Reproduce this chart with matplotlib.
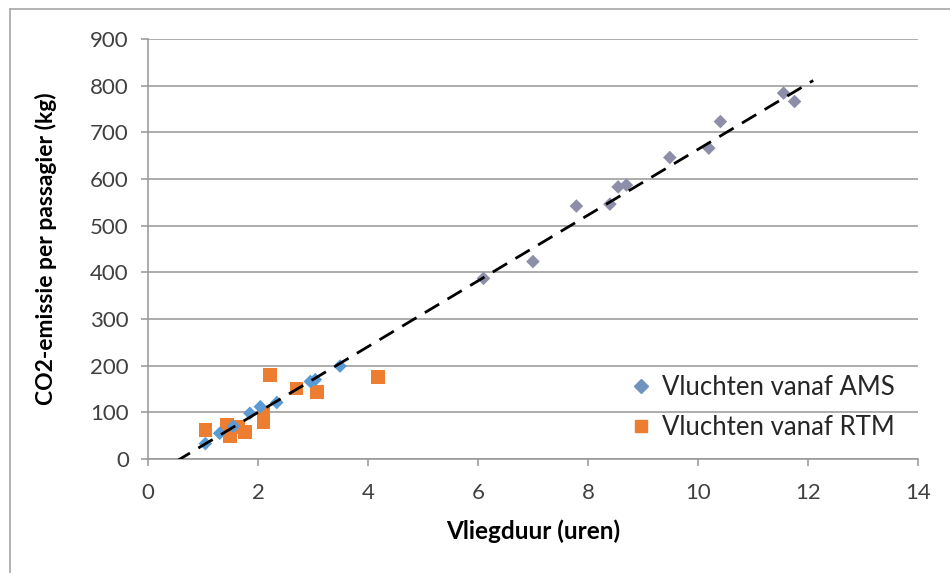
import numpy as np
import matplotlib.pyplot as plt
from matplotlib.lines import Line2D

# Flights from AMS (flight time in hours, CO2 per passenger in kg)
ams_hours = [1.04, 1.30, 1.55, 1.85, 2.04, 2.34, 2.95, 3.04, 3.49,
             6.10, 7.00, 7.79, 8.40, 8.55, 8.70, 9.49, 10.20, 10.41, 11.56, 11.76]
ams_co2 = [33, 55, 70, 98, 112, 121, 166, 170, 199,
           387, 423, 542, 546, 583, 587, 646, 666, 723, 784, 766]

# Flights from RTM
rtm_hours = [1.04, 1.43, 1.49, 1.64, 1.76, 2.10, 2.10, 2.22, 2.70, 3.07, 4.18]
rtm_co2 = [62, 73, 48, 69, 58, 78, 100, 180, 151, 144, 176]

# linear trendline
trend_slope = 70.4
trend_intercept = -40.8
trend_range = [0.5, 12.1]

legend_labels = ["Vluchten vanaf AMS", "Vluchten vanaf RTM"]

plt.rcParams['font.family'] = ['Lato', 'DejaVu Sans']

fig = plt.figure(figsize=(9.5, 5.73), dpi=100)
ax = fig.add_axes([0.156, 0.199, 0.81, 0.733])

# outer chart border (top and left edges visible)
fig.add_artist(Line2D([10 / 950, 1.0], [1 - 9 / 573, 1 - 9 / 573], transform=fig.transFigure,
                      color='#a6a6a6', lw=1.2))
fig.add_artist(Line2D([10 / 950, 10 / 950], [0, 1 - 9 / 573], transform=fig.transFigure,
                      color='#a6a6a6', lw=1.2))

ams_x = np.array(ams_hours)
ams_y = np.array(ams_co2)
ams_colors = np.where(ams_y < 250, '#5b9bd5', '#8d8fa8')

tx = np.array(trend_range)
ax.plot(tx, trend_slope * tx + trend_intercept, color='black', lw=2,
        dashes=(6, 3.5), zorder=4)

ax.scatter(ams_x, ams_y, marker='D', s=48, c=ams_colors, edgecolors='none', zorder=3)
ax.scatter(rtm_hours, rtm_co2, marker='s', s=95, c='#ed7d31', edgecolors='none', zorder=2)

ax.set_xlim(0, 14)
ax.set_ylim(0, 900)
ax.set_xticks(np.arange(0, 15, 2))
ax.set_yticks(np.arange(0, 901, 100))
ax.grid(axis='y', color='#969696', lw=1.1)
ax.set_axisbelow(True)
for side in ['top', 'right']:
    ax.spines[side].set_visible(False)
for side in ['left', 'bottom']:
    ax.spines[side].set_color('#969696')
    ax.spines[side].set_linewidth(1.1)
ax.tick_params(axis='both', colors='#969696', labelcolor='#404040',
               labelsize=16, length=5, width=1.1)
ax.tick_params(axis='y', pad=9)
ax.tick_params(axis='x', pad=12)

ax.set_xlabel("Vliegduur (uren)", fontsize=17.5, fontweight='bold', labelpad=12)
ax.set_ylabel("CO2-emissie per passagier (kg)", fontsize=16.5, fontweight='bold', labelpad=24)

handles = [Line2D([], [], marker='D', ls='none', color='#6f93bf', markersize=7),
           Line2D([], [], marker='s', ls='none', color='#ed7d31', markersize=9)]
ax.legend(handles, legend_labels, loc='lower right', bbox_to_anchor=(1.0, -0.01),
          frameon=False, fontsize=18.5, handlelength=1.0, handletextpad=0.3,
          labelspacing=0.6, labelcolor='#262626')

fig.savefig("out.png", dpi=100)
